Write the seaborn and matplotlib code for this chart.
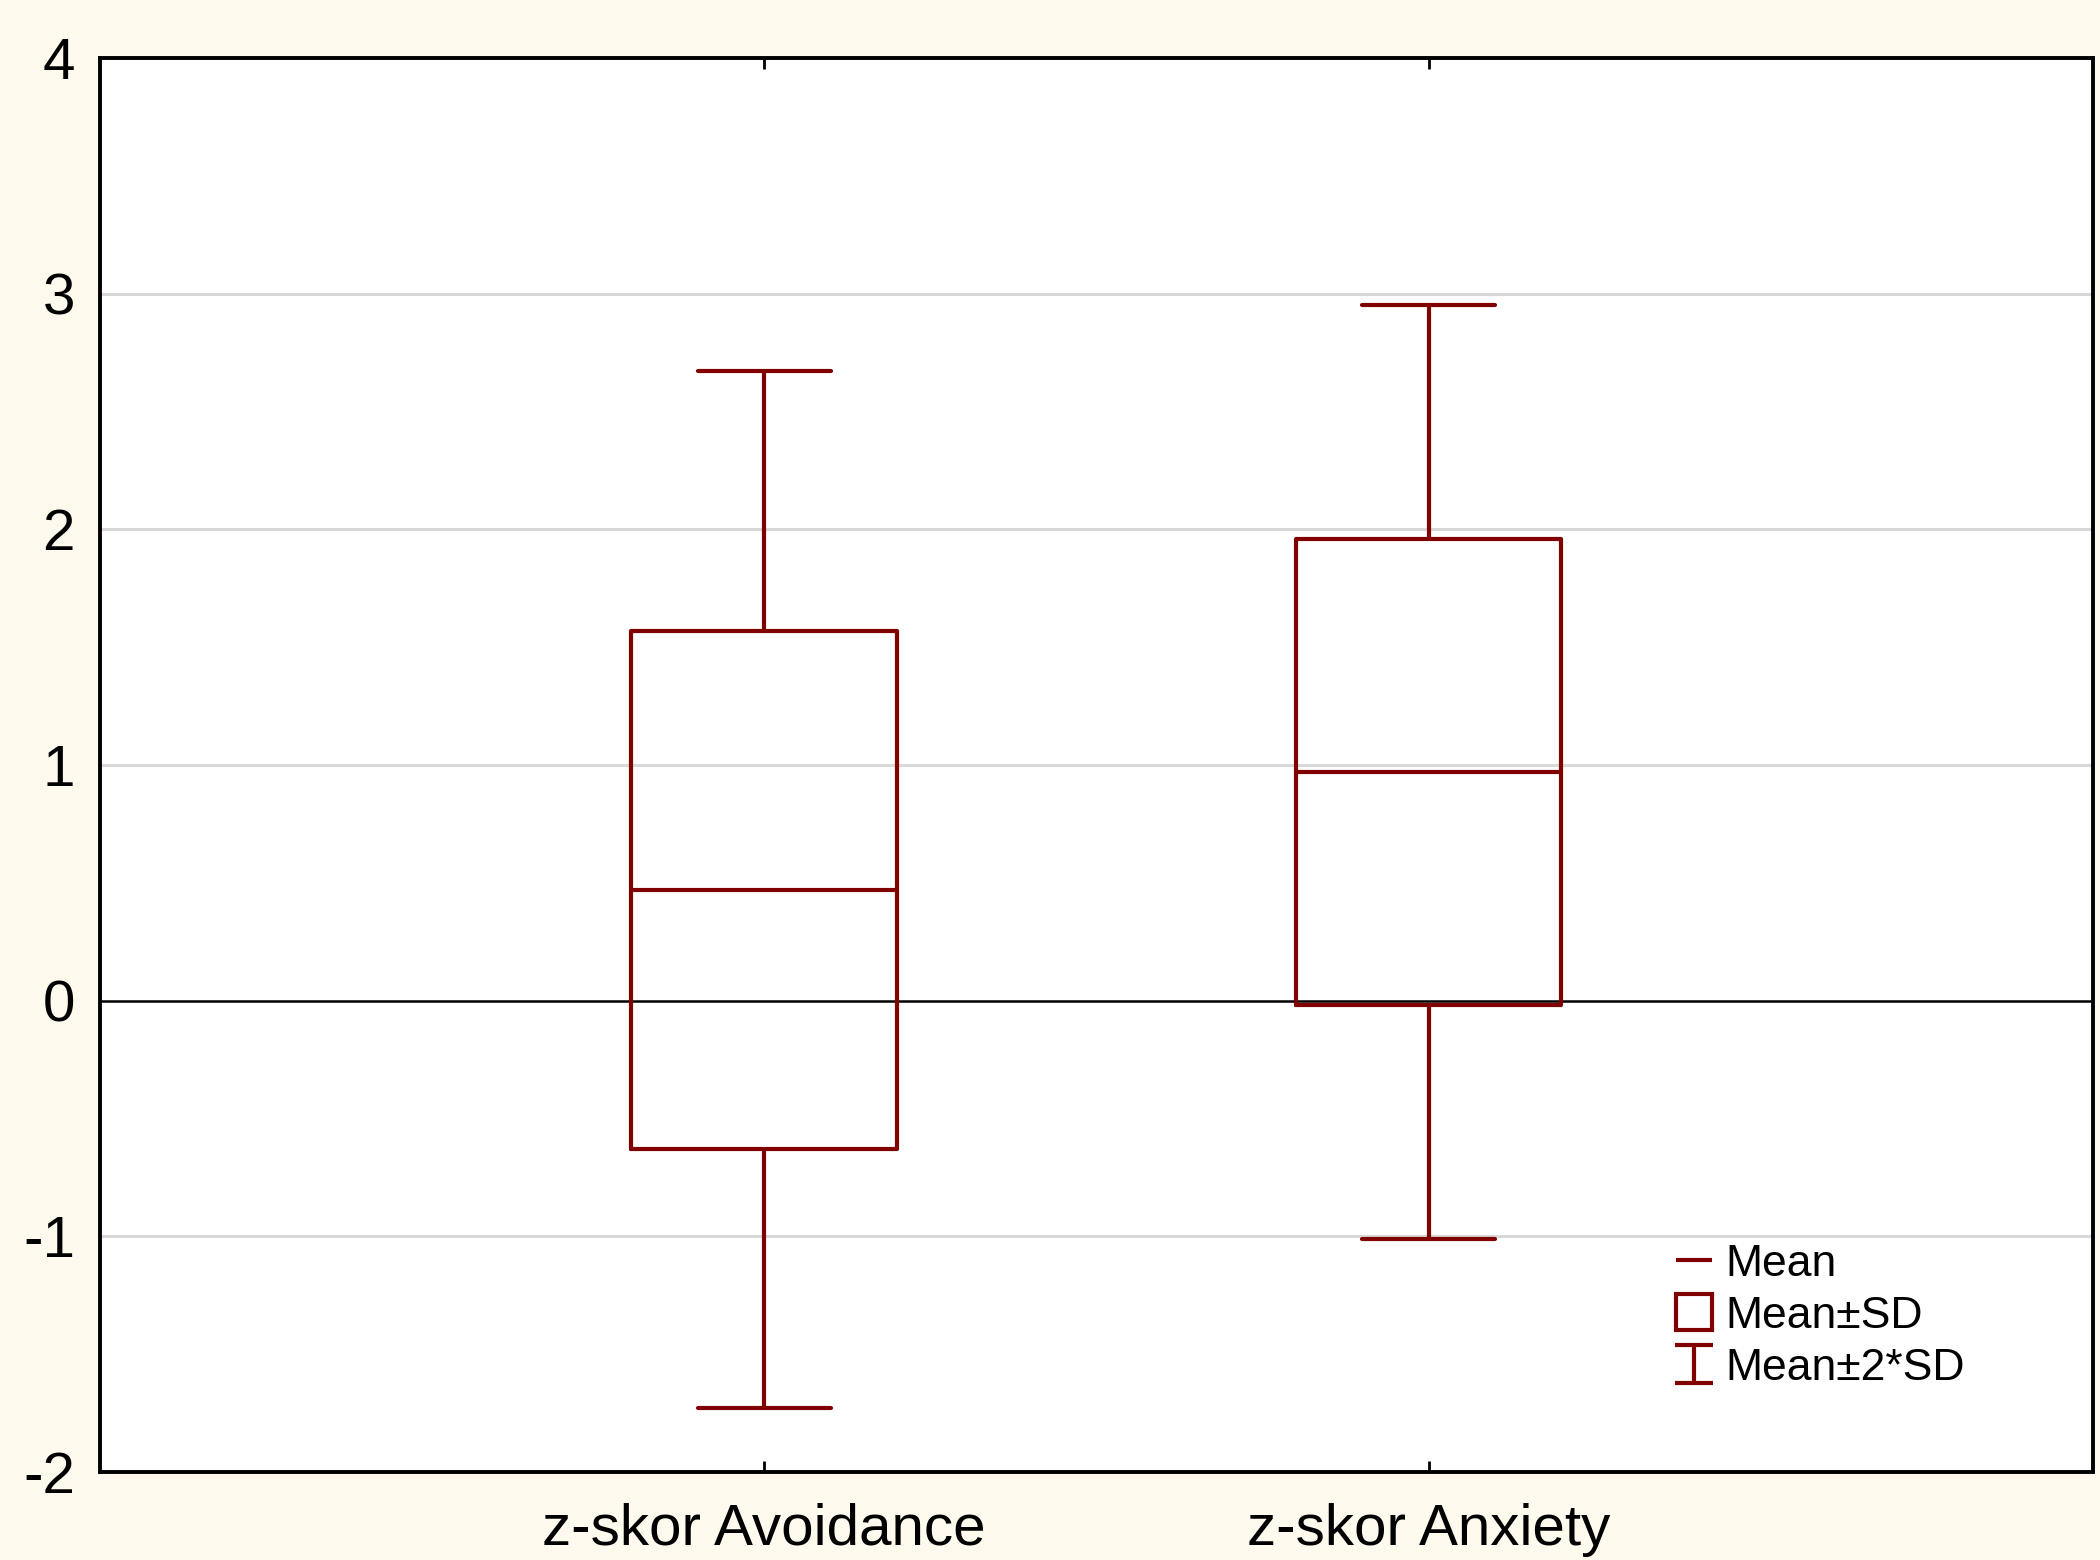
import matplotlib
matplotlib.use('Agg')
import matplotlib.pyplot as plt
import seaborn as sns
import numpy as np
import pandas as pd
from matplotlib.lines import Line2D
from matplotlib.path import Path

# values
variables = ['z-skor Avoidance', 'z-skor Anxiety']
means = [0.47, 0.97]
sds = [1.10, 0.99]
y_ticks = [-2, -1, 0, 1, 2, 3, 4]

box_color = '#800000'
bg_color = '#fff9ee'

# five points per variable so that the box spans mean±SD,
# the median line is the mean and whiskers reach mean±2*SD
rows = []
for name, m, s in zip(variables, means, sds):
    for k in (-2, -1, 0, 1, 2):
        rows.append({'var': name, 'z': m + k * s})
df = pd.DataFrame(rows)

sns.set_style('white')
plt.rcParams['font.family'] = ['Liberation Sans', 'DejaVu Sans']
plt.rcParams['axes.unicode_minus'] = False
plt.rcParams['text.color'] = 'black'

fig = plt.figure(figsize=(21, 15.6), dpi=100, facecolor=bg_color)
ax = fig.add_axes([0.0476, 0.0564, 0.949, 0.9064])
ax.set_facecolor('white')

lw = 3.0
sns.boxplot(data=df, x='var', y='z', order=variables, whis=(0, 100), width=0.4,
            fill=False, color=box_color, linewidth=lw, showfliers=False,
            medianprops={'color': box_color, 'linewidth': lw},
            whiskerprops={'color': box_color, 'linewidth': lw},
            capprops={'color': box_color, 'linewidth': lw},
            boxprops={'color': box_color, 'linewidth': lw},
            ax=ax)

# grid and zero line
for t in y_ticks:
    if t == 0:
        ax.axhline(t, color='black', lw=1.8, zorder=0.5)
    elif -2 < t < 4:
        ax.axhline(t, color='#d8d8d8', lw=2.2, zorder=0.4)

ax.set_xlim(-1, 2)
ax.set_ylim(-2, 4)
ax.set_yticks(y_ticks)
ax.set_yticklabels([str(t) for t in y_ticks])
ax.set_xlabel('')
ax.set_ylabel('')

for sp in ax.spines.values():
    sp.set_visible(True)
    sp.set_color('black')
    sp.set_linewidth(2.8)

ax.tick_params(axis='x', direction='in', length=8, width=2, top=True, bottom=True,
               labelsize=42, pad=22, labelcolor='black', color='black')
ax.tick_params(axis='y', direction='in', length=0, labelsize=42, pad=18,
               labelcolor='black')

# legend
i_marker = Path([(-1, 1), (1, 1), (0, 1), (0, -1), (-1, -1), (1, -1)],
                [Path.MOVETO, Path.LINETO, Path.MOVETO, Path.LINETO, Path.MOVETO, Path.LINETO])
handles = [
    Line2D([], [], linestyle='None', marker='_', markersize=26, markeredgewidth=lw,
           color=box_color),
    Line2D([], [], linestyle='None', marker='s', markersize=26, markeredgewidth=lw,
           markerfacecolor='none', markeredgecolor=box_color),
    Line2D([], [], linestyle='None', marker=i_marker, markersize=28, markeredgewidth=lw,
           markerfacecolor='none', markeredgecolor=box_color, fillstyle='none'),
]
labels = ['Mean', 'Mean±SD', 'Mean±2*SD']
ax.legend(handles, labels, loc='upper left', bbox_to_anchor=(0.791, 0.1615),
          frameon=False, fontsize=32, handlelength=0.8, handletextpad=0.3,
          labelspacing=0.25, borderaxespad=0, borderpad=0)

fig.savefig('out.png', dpi=100, facecolor=bg_color)
